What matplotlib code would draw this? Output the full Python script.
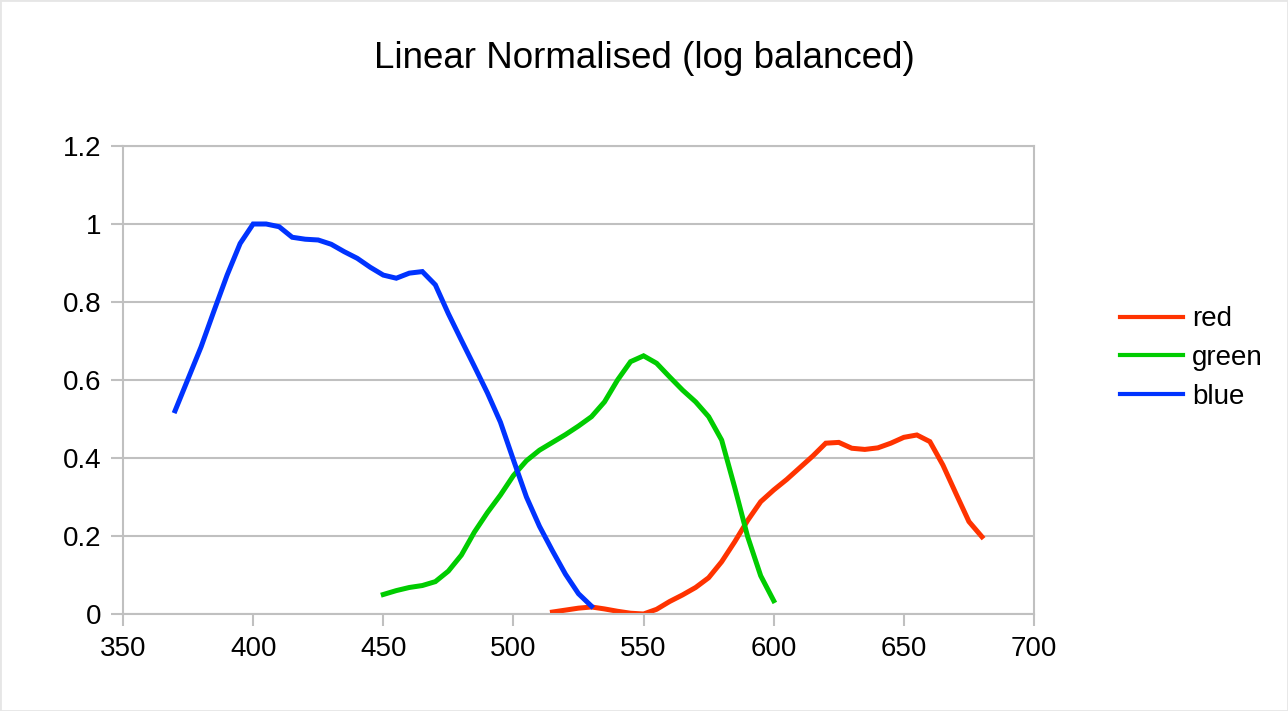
import matplotlib
matplotlib.use("Agg")
import matplotlib.pyplot as plt
from matplotlib.patches import Rectangle

plt.rcParams['font.family'] = ['Liberation Sans', 'DejaVu Sans']

title = "Linear Normalised (log balanced)"

red_x = [515, 520, 525, 530, 535, 540, 545, 550, 555, 560, 565, 570, 575, 580, 585, 590,
         595, 600, 605, 610, 615, 620, 625, 630, 635, 640, 645, 650, 655, 660, 665, 670, 675, 680]
red_y = [0.005, 0.010, 0.015, 0.018, 0.013, 0.007, 0.002, 0.000, 0.012, 0.032, 0.049, 0.068,
         0.093, 0.134, 0.185, 0.240, 0.288, 0.318, 0.345, 0.375, 0.405, 0.438, 0.440, 0.425,
         0.422, 0.426, 0.438, 0.453, 0.459, 0.442, 0.382, 0.309, 0.237, 0.198]

green_x = [450, 455, 460, 465, 470, 475, 480, 485, 490, 495, 500, 505, 510, 515, 520, 525,
           530, 535, 540, 545, 550, 555, 560, 565, 570, 575, 580, 585, 590, 595, 600]
green_y = [0.050, 0.060, 0.068, 0.073, 0.083, 0.110, 0.151, 0.210, 0.260, 0.305, 0.355, 0.393,
           0.420, 0.440, 0.460, 0.482, 0.506, 0.544, 0.600, 0.647, 0.662, 0.643, 0.608, 0.574,
           0.544, 0.506, 0.446, 0.325, 0.198, 0.098, 0.034]

blue_x = [370, 375, 380, 385, 390, 395, 400, 405, 410, 415, 420, 425, 430, 435, 440, 445,
          450, 455, 460, 465, 470, 475, 480, 485, 490, 495, 500, 505, 510, 515, 520, 525, 530]
blue_y = [0.521, 0.603, 0.685, 0.778, 0.869, 0.950, 1.000, 1.000, 0.993, 0.966, 0.961, 0.959,
          0.948, 0.929, 0.912, 0.889, 0.869, 0.861, 0.874, 0.878, 0.844, 0.770, 0.702, 0.635,
          0.567, 0.492, 0.395, 0.300, 0.225, 0.162, 0.102, 0.052, 0.020]

x_ticks = [350, 400, 450, 500, 550, 600, 650, 700]
y_ticks = [0, 0.2, 0.4, 0.6, 0.8, 1, 1.2]
y_labels = ["0", "0.2", "0.4", "0.6", "0.8", "1", "1.2"]

W, H = 1288, 711
fig = plt.figure(figsize=(W / 100, H / 100), dpi=100)
fig.patches.append(Rectangle((0, 0), 1, 1, transform=fig.transFigure, fill=False,
                             edgecolor='#e6e6e6', linewidth=2))

ax = fig.add_axes([123 / W, 1 - 614 / H, (1034 - 123) / W, (614 - 146) / H])
grid_c = '#c0c0c0'
ax.plot(red_x, red_y, color='#ff3300', lw=3.6, label='red', solid_joinstyle='miter')
ax.plot(green_x, green_y, color='#00cc00', lw=3.6, label='green', solid_joinstyle='miter')
ax.plot(blue_x, blue_y, color='#0033ff', lw=3.6, label='blue', solid_joinstyle='miter')

ax.set_xlim(350, 700)
ax.set_ylim(0, 1.2)
ax.set_xticks(x_ticks)
ax.set_yticks(y_ticks)
ax.set_yticklabels(y_labels)
ax.grid(axis='y', color=grid_c, lw=1.5)
ax.set_axisbelow(True)
for s in ax.spines.values():
    s.set_color(grid_c)
    s.set_linewidth(1.5)
ax.tick_params(axis='both', direction='out', length=8.5, width=1.5, color=grid_c,
               labelsize=20)
ax.tick_params(axis='y', pad=7)
ax.tick_params(axis='x', pad=7)

fig.text(0.5, 1 - 59 / H, title, ha='center', va='center', fontsize=26.5)

leg = fig.legend(loc='center left', bbox_to_anchor=(1095 / W, 1 - 358 / H), frameon=False,
                 fontsize=20, handlelength=2.27, handletextpad=0.32, labelspacing=0.45)
for l in leg.get_lines():
    l.set_linewidth(3)

fig.savefig('out.png', dpi=100)
